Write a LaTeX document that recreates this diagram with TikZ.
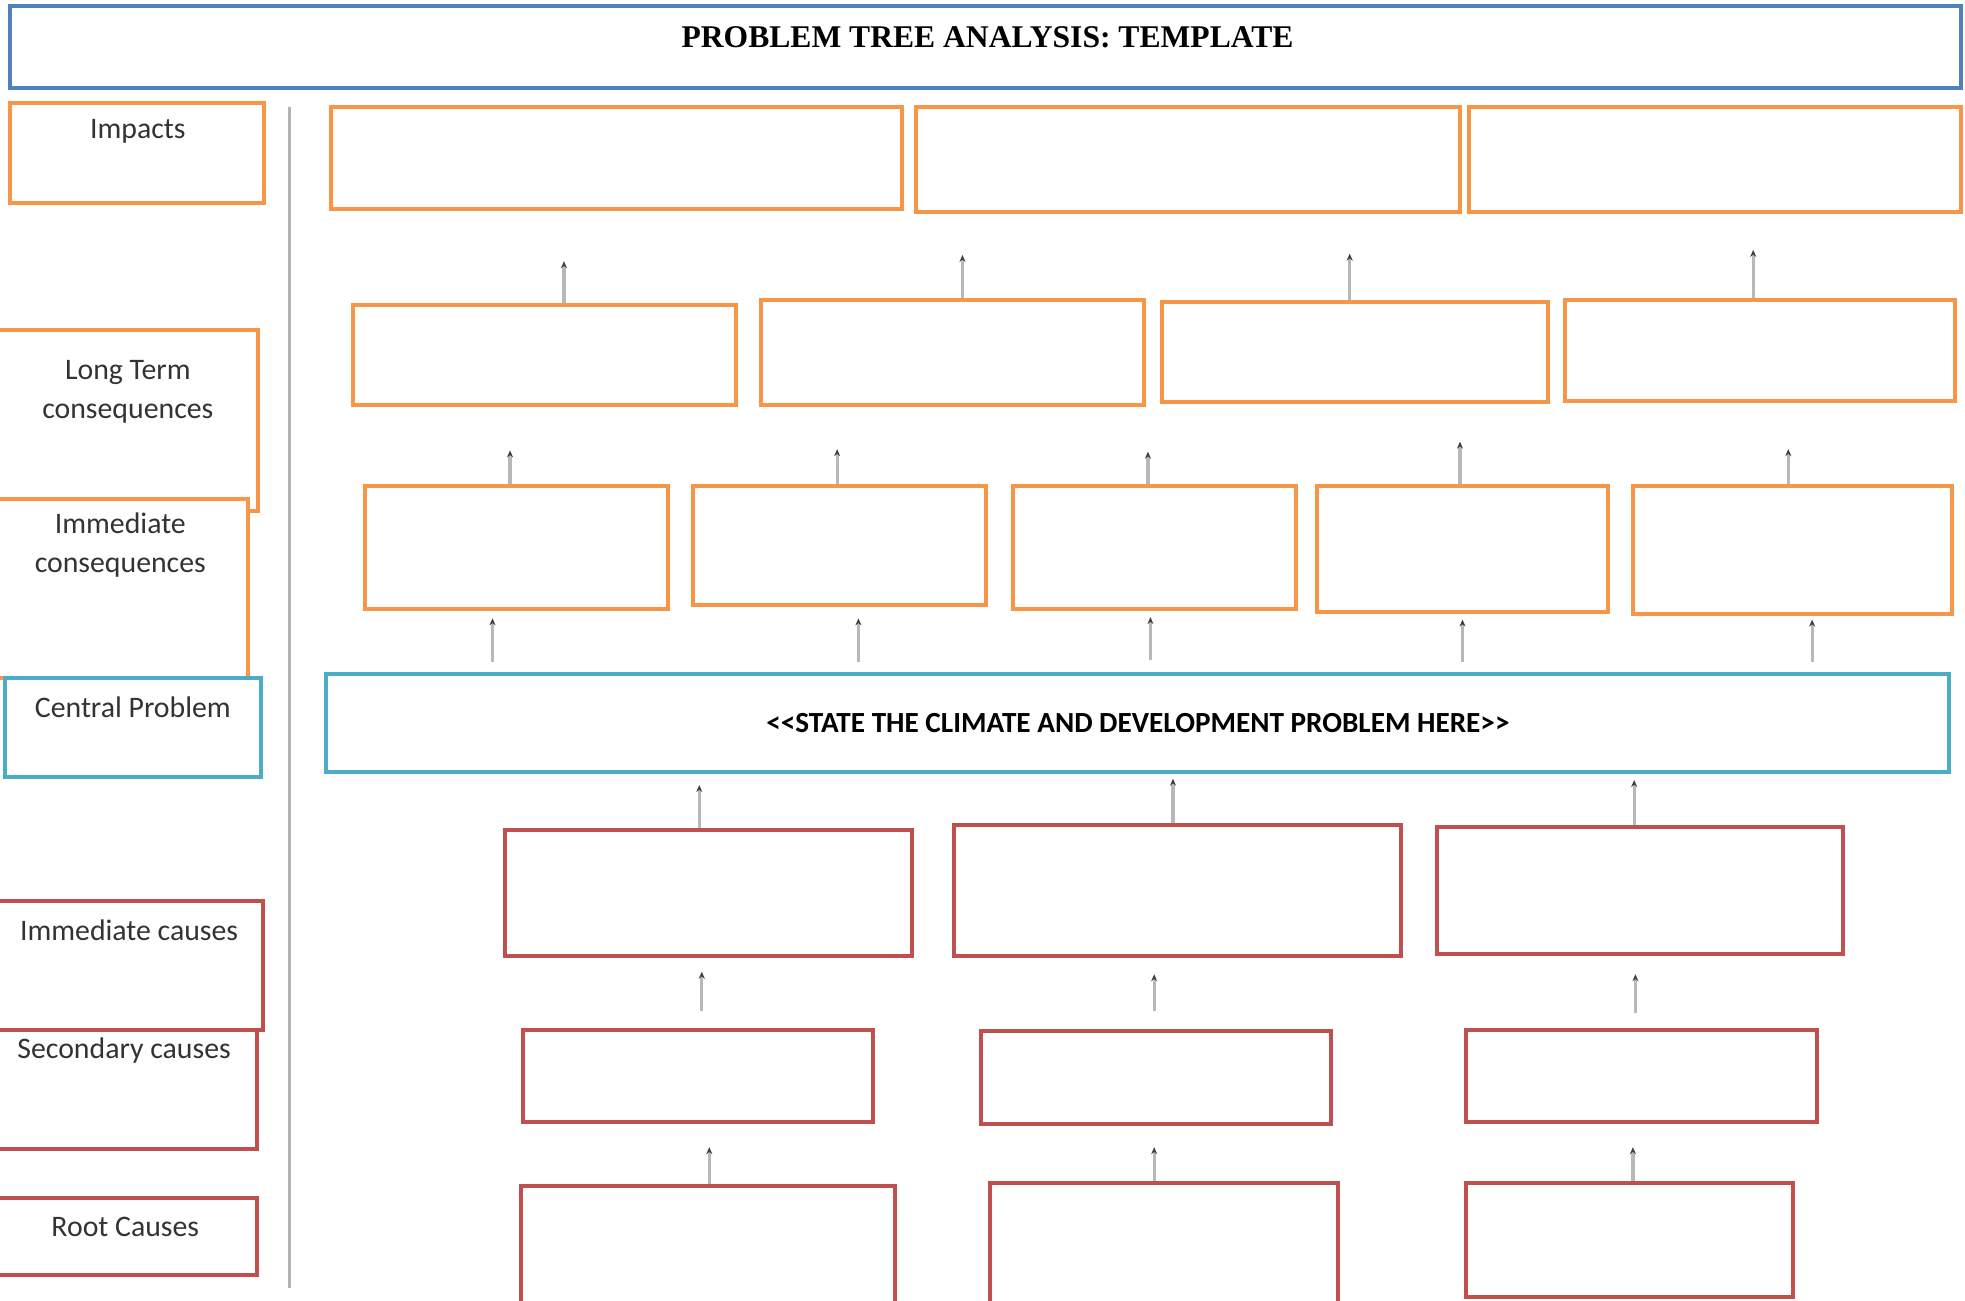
\documentclass[tikz,border=0pt]{standalone}
\usepackage{fontspec}
\setmainfont{Carlito}
\newfontfamily\ttlfont{Liberation Serif}
\usepackage{xcolor}
\usetikzlibrary{positioning,arrows.meta,fit}
\definecolor{ttlblue}{HTML}{4F81BD}
\definecolor{cpteal}{HTML}{4BACC6}
\definecolor{csorange}{HTML}{F79646}
\definecolor{causered}{HTML}{C0504D}

\begin{document}
\begin{tikzpicture}[
  x=0.6266pt, y=-0.6266pt,
  box/.style={draw,fill=white,line width=2pt,inner sep=0pt},
  obox/.style={box,draw=csorange},
  rbox/.style={box,draw=causered},
  tbox/.style={box,draw=cpteal},
  lbl/.style={font=\fontsize{14.9}{19.5}\selectfont,text=black!80,align=center,inner sep=0pt},
  stub/.style={->,draw=black!28,line width=1.6pt},
  >={Stealth[length=3.5pt,width=3pt,color=black!75]}]
\useasboundingbox (0,0) rectangle (1568,1038);
\clip (0,0) rectangle (1568,1038);
% title
\node[box,draw=ttlblue,line width=2.2pt,fit={(8,5)(1565,70)}] (ttl) {};
\node[font=\ttlfont\bfseries\fontsize{15.8}{18}\selectfont,inner sep=0pt] (ttltxt) at (788,30) {PROBLEM TREE ANALYSIS: TEMPLATE};
\draw[black!30,line width=1.5pt] (231,85) -- (231,1028);
% left column
\node[obox,fit={(8,82)(211,162)}] (imp) {};
\node[obox,fit={(-3,263)(206,408)}] (ltc) {};
\node[obox,fit={(-3,398)(198,541)}] (icq) {};
\node[tbox,fit={(4,541)(208,620)}] (cpl) {};
\node[rbox,fit={(-3,815)(205,917)}] (sca) {};
\node[rbox,fit={(-3,719)(210,822)}] (ica) {};
\node[rbox,fit={(-3,956)(205,1017)}] (rca) {};
\node[lbl] (imptxt) at (110,105) {Impacts};
\node[lbl] (ltctxt) at (102,313) {Long Term\\consequences};
\node[lbl] (icqtxt) at (96,435) {Immediate\\consequences};
\node[lbl] (cpltxt) at (106,564) {Central Problem};
\node[lbl] (icatxt) at (103,742) {Immediate causes};
\node[lbl] (scatxt) at (99,838) {Secondary causes};
\node[lbl] (rcatxt) at (100,979) {Root Causes};
% impacts
\node[obox,fit={(264,85)(720,167)}] (i1) {};
\node[obox,fit={(731,85)(1165,169)}] (i2) {};
\node[obox,fit={(1172,85)(1565,169)}] (i3) {};
% long term consequences
\node[obox,fit={(282,243)(587,323)}] (l1) {};
\node[obox,fit={(607,239)(913,323)}] (l2) {};
\node[obox,fit={(927,241)(1235,321)}] (l3) {};
\node[obox,fit={(1249,239)(1560,320)}] (l4) {};
% immediate consequences
\node[obox,fit={(291,388)(533,486)}] (c1) {};
\node[obox,fit={(553,388)(787,483)}] (c2) {};
\node[obox,fit={(808,388)(1034,486)}] (c3) {};
\node[obox,fit={(1051,388)(1283,488)}] (c4) {};
\node[obox,fit={(1303,388)(1558,490)}] (c5) {};
% central problem
\node[tbox,fit={(260,538)(1555,616)}] (cp) {};
\node[font=\bfseries\fontsize{14.6}{17}\selectfont,inner sep=0pt] (cptxt) at (908,577) {<{}<STATE THE CLIMATE AND DEVELOPMENT PROBLEM HERE>{}>};
% causes
\node[rbox,fit={(403,662)(728,763)}] (r1) {};
\node[rbox,fit={(761,658)(1118,763)}] (r2) {};
\node[rbox,fit={(1147,660)(1471,761)}] (r3) {};
\node[rbox,fit={(417,822)(697,895)}] (s1) {};
\node[rbox,fit={(783,823)(1062,897)}] (s2) {};
\node[rbox,fit={(1170,822)(1450,895)}] (s3) {};
\node[rbox,fit={(416,946)(714,1052)}] (t1) {};
\node[rbox,fit={(790,944)(1068,1052)}] (t2) {};
\node[rbox,fit={(1170,944)(1431,1035)}] (t3) {};
% stubs
\draw[stub] (l1.north) ++(15.5,0) -- ++(0,-33); \draw[stub] (l2.north) ++(8,0) -- ++(0,-34);
\draw[stub] (l3.north) ++(-4,0) -- ++(0,-37); \draw[stub] (l4.north) ++(-5.5,0) -- ++(0,-38);
\draw[stub] (c1.north) ++(-5,0) -- ++(0,-27); \draw[stub] (c2.north) ++(-2,0) -- ++(0,-28);
\draw[stub] (c3.north) ++(-5,0) -- ++(0,-26); \draw[stub] (c4.north) ++(-2,0) -- ++(0,-34);
\draw[stub] (c5.north) ++(-3.5,0) -- ++(0,-28);
\draw[stub] (cp.north) ++(-514.5,-8) -- ++(0,-35); \draw[stub] (cp.north) ++(-222.5,-8) -- ++(0,-35);
\draw[stub] (cp.north) ++(10.5,-10) -- ++(0,-34); \draw[stub] (cp.north) ++(259.5,-8) -- ++(0,-34);
\draw[stub] (cp.north) ++(538.5,-8) -- ++(0,-34);
\draw[stub] (r1.north) ++(-7.5,0) -- ++(0,-34); \draw[stub] (r2.north) ++(-3.5,0) -- ++(0,-35);
\draw[stub] (r3.north) ++(-5,0) -- ++(0,-36);
\draw[stub] (s1.north) ++(3,-14) -- ++(0,-31); \draw[stub] (s2.north) ++(-1.5,-15) -- ++(0,-29);
\draw[stub] (s3.north) ++(-5,-12) -- ++(0,-31);
\draw[stub] (t1.north) ++(1,0) -- ++(0,-29); \draw[stub] (t2.north) ++(-8,0) -- ++(0,-27);
\draw[stub] (t3.north) ++(2.5,0) -- ++(0,-27);
\end{tikzpicture}
\end{document}
